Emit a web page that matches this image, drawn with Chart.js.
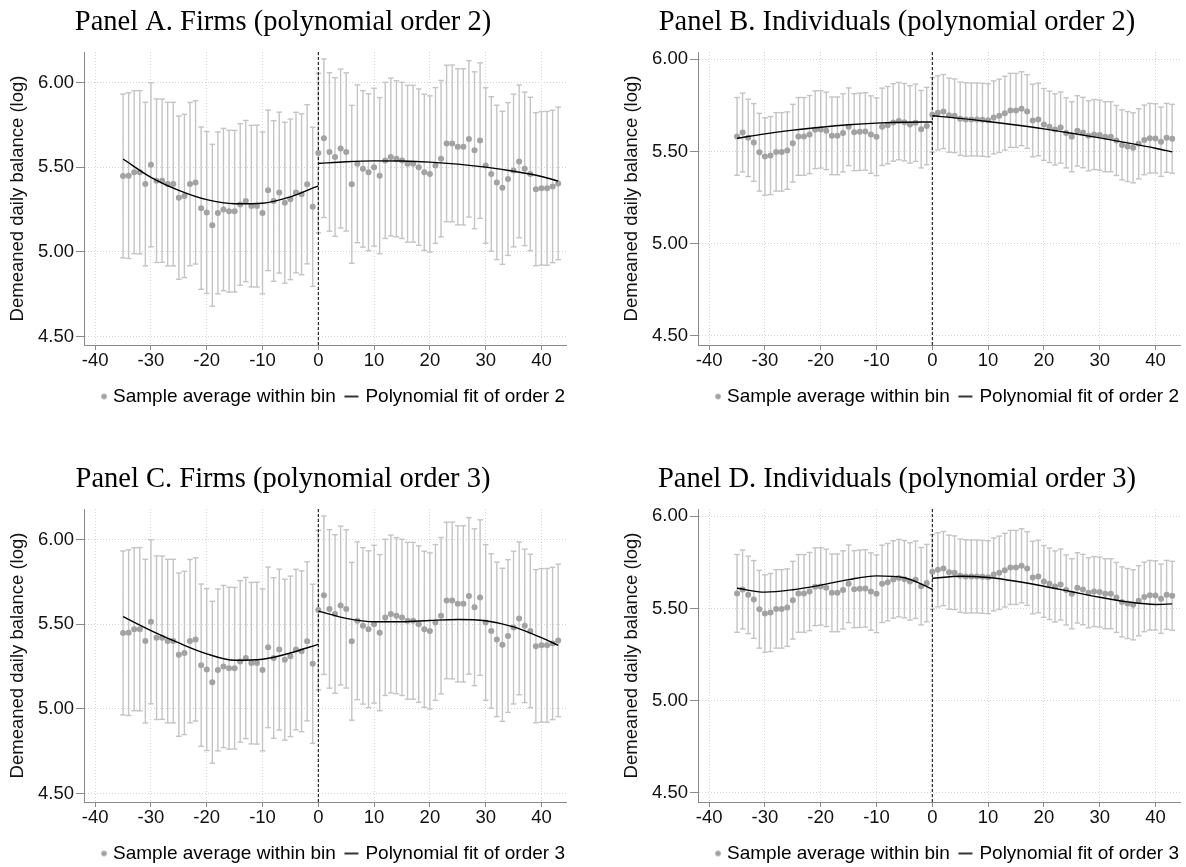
<!DOCTYPE html>
<html>
<head>
<meta charset="utf-8">
<title>RD plots</title>
<script src="https://cdn.jsdelivr.net/npm/chart.js@4.4.1/dist/chart.umd.min.js"></script>
<style>
  html, body { margin: 0; padding: 0; background: #fff; overflow: hidden; }
  .panel { position: absolute; width: 593px; height: 416px; }
</style>
</head>
<body>
<div class="panel" style="left:0;top:0"><canvas id="panelA" width="593" height="416"></canvas></div>
<div class="panel" style="left:593px;top:0"><canvas id="panelB" width="593" height="416"></canvas></div>
<div class="panel" style="left:0;top:457px"><canvas id="panelC" width="593" height="416"></canvas></div>
<div class="panel" style="left:593px;top:457px"><canvas id="panelD" width="593" height="416"></canvas></div>
<script>
// bins (days relative to the cutoff)
const bins = [-35,-34,-33,-32,-31,-30,-29,-28,-27,-26,-25,-24,-23,-22,-21,-20,-19,-18,-17,-16,
  -15,-14,-13,-12,-11,-10,-9,-8,-7,-6,-5,-4,-3,-2,-1,
  0,1,2,3,4,5,6,7,8,9,10,11,12,13,14,15,16,17,18,19,20,21,22,23,24,25,26,27,28,29,
  30,31,32,33,34,35,36,37,38,39,40,41,42,43];

// firms: bin means and 95% CI half widths
const firmMean = [5.448,5.45,5.47,5.47,5.40,5.514,5.42,5.42,5.40,5.40,
  5.32,5.33,5.40,5.41,5.258,5.232,5.157,5.23,5.25,5.24,
  5.24,5.28,5.30,5.27,5.27,5.23,5.363,5.30,5.35,5.29,
  5.31,5.35,5.34,5.399,5.266,
  5.583,5.671,5.59,5.56,5.61,5.59,5.399,5.52,5.49,5.47,
  5.50,5.45,5.54,5.56,5.55,5.54,5.52,5.52,5.50,5.47,
  5.46,5.51,5.55,5.64,5.64,5.62,5.62,5.667,5.60,5.657,
  5.51,5.46,5.41,5.378,5.43,5.48,5.534,5.49,5.46,5.37,
  5.375,5.375,5.386,5.404];
const firmCI = [0.484,0.489,0.481,0.482,0.483,0.484,0.483,0.482,0.483,0.483,
  0.482,0.482,0.482,0.482,0.479,0.478,0.478,0.478,0.479,0.478,
  0.477,0.477,0.476,0.477,0.478,0.478,0.474,0.474,0.475,0.475,
  0.474,0.474,0.475,0.470,0.470,
  0.471,0.468,0.468,0.468,0.469,0.467,0.466,0.466,0.462,0.463,
  0.466,0.461,0.461,0.466,0.461,0.461,0.463,0.463,0.462,0.461,
  0.461,0.460,0.462,0.462,0.463,0.461,0.461,0.462,0.463,0.459,
  0.459,0.456,0.456,0.452,0.451,0.451,0.451,0.453,0.453,0.452,
  0.453,0.454,0.450,0.450];

// individuals: bin means and 95% CI half widths
const indivMean = [5.582,5.603,5.574,5.549,5.496,5.473,5.478,5.498,5.498,5.505,
  5.545,5.582,5.582,5.592,5.618,5.620,5.612,5.585,5.585,5.601,
  5.634,5.605,5.607,5.609,5.592,5.580,5.634,5.643,5.658,5.665,
  5.659,5.647,5.656,5.621,5.638,
  5.699,5.710,5.717,5.697,5.694,5.678,5.674,5.674,5.674,5.672,
  5.670,5.685,5.694,5.708,5.723,5.723,5.732,5.717,5.668,5.674,
  5.647,5.634,5.620,5.630,5.601,5.580,5.612,5.603,5.585,5.592,
  5.589,5.580,5.580,5.560,5.536,5.527,5.520,5.542,5.563,5.572,
  5.571,5.553,5.574,5.569];
const indivCI = [0.211,0.214,0.210,0.211,0.211,0.210,0.212,0.213,0.213,0.210,
  0.211,0.211,0.211,0.212,0.211,0.210,0.210,0.211,0.211,0.212,
  0.211,0.209,0.210,0.210,0.210,0.211,0.210,0.210,0.210,0.210,
  0.210,0.210,0.210,0.210,0.210,
  0.202,0.201,0.201,0.201,0.200,0.199,0.199,0.198,0.198,0.198,
  0.198,0.198,0.199,0.200,0.201,0.201,0.201,0.200,0.197,0.197,
  0.195,0.194,0.193,0.193,0.190,0.190,0.191,0.191,0.190,0.190,
  0.190,0.190,0.190,0.190,0.190,0.190,0.190,0.190,0.189,0.189,
  0.188,0.188,0.187,0.187];

// fitted polynomial
const fitXLeft = [-35,-30,-25,-20,-15,-10,-5,0];
const fitXRight = [0,5,10,15,20,25,30,35,40,43];
const fitA_left = [5.548,5.44,5.363,5.308,5.284,5.287,5.325,5.39];
const fitA_right = [5.522,5.532,5.537,5.536,5.530,5.518,5.50,5.476,5.445,5.418];
const fitB_left = [5.572,5.596,5.616,5.632,5.645,5.654,5.659,5.660];
const fitB_right = [5.694,5.680,5.663,5.644,5.623,5.599,5.574,5.547,5.518,5.498];
const fitC_left = [5.544,5.462,5.389,5.325,5.287,5.293,5.33,5.381];
const fitC_right = [5.577,5.534,5.514,5.514,5.522,5.528,5.52,5.484,5.42,5.375];
const fitD_left = [5.610,5.589,5.602,5.627,5.657,5.677,5.667,5.606];
const fitD_right = [5.664,5.675,5.668,5.648,5.621,5.591,5.561,5.536,5.522,5.525];

const xTicks = [-40,-30,-20,-10,0,10,20,30,40];
const yTicks = [4.5,5.0,5.5,6.0];

const sans = "'Liberation Sans', Arial, Helvetica, sans-serif";
const serif = "'Liberation Serif', 'Times New Roman', serif";
const dotColor = '#a2a2a2';
const barColor = '#c4c4c4';

Chart.defaults.font.family = sans;
Chart.defaults.color = '#111';

// legend symbols (drawn offset inside the icon so the spacing looks like the original)
function dotIcon() {
  const c = document.createElement('canvas');
  c.width = 28; c.height = 8;
  const g = c.getContext('2d');
  g.fillStyle = dotColor;
  g.beginPath();
  g.arc(24, 4, 2.8, 0, Math.PI * 2);
  g.fill();
  return c;
}
function lineIcon() {
  const c = document.createElement('canvas');
  c.width = 26; c.height = 4;
  const g = c.getContext('2d');
  g.strokeStyle = '#000';
  g.lineWidth = 1.6;
  g.beginPath();
  g.moveTo(11, 2);
  g.lineTo(25, 2);
  g.stroke();
  return c;
}

function makePanel(cfg) {
  const errData = [];
  bins.forEach((x, i) => {
    errData.push({x: x, y: cfg.mean[i] - cfg.ci[i]});
    errData.push({x: x, y: cfg.mean[i] + cfg.ci[i]});
    errData.push({x: x, y: null});
  });
  const pts = bins.map((x, i) => ({x: x, y: cfg.mean[i]}));
  const fitL = fitXLeft.map((x, i) => ({x: x, y: cfg.fitLeft[i]}));
  const fitR = fitXRight.map((x, i) => ({x: x, y: cfg.fitRight[i]}));

  new Chart(document.getElementById(cfg.id), {
    type: 'line',
    data: {
      datasets: [
        { label: 'fit left', data: fitL, borderColor: '#000', borderWidth: 1.4,
          pointRadius: 0, cubicInterpolationMode: 'monotone', order: 0 },
        { label: 'fit right', data: fitR, borderColor: '#000', borderWidth: 1.4,
          pointRadius: 0, cubicInterpolationMode: 'monotone', order: 0 },
        { label: 'Sample average within bin', data: pts, showLine: false,
          pointRadius: 3, pointBackgroundColor: dotColor, pointBorderColor: dotColor,
          pointBorderWidth: 0, order: 1 },
        { label: 'cutoff', data: [{x: 0, y: cfg.yMin}, {x: 0, y: cfg.yMax}],
          borderColor: '#000', borderWidth: 1, borderDash: [3, 2], pointRadius: 0, order: 2 },
        { label: 'ci', data: errData, borderColor: barColor, borderWidth: 1.4, spanGaps: false,
          pointStyle: 'line', pointRadius: 2.8, pointBorderColor: barColor,
          pointBorderWidth: 1.4, order: 3 }
      ]
    },
    options: {
      responsive: false,
      animation: false,
      events: [],
      layout: { padding: { left: cfg.padLeft, right: cfg.padRight, top: 0, bottom: 0 } },
      plugins: {
        tooltip: { enabled: false },
        title: {
          display: true, text: cfg.title, color: '#000',
          font: { family: serif, size: 28.5, weight: 'normal' },
          padding: { top: 5, bottom: 12.8 }
        },
        legend: {
          position: 'bottom', align: 'end',
          onClick: null,
          labels: {
            usePointStyle: true, boxWidth: 25, boxHeight: 19, padding: 1,
            font: { family: sans, size: 19 }, color: '#111',
            generateLabels: () => [
              { text: 'Sample average within bin', pointStyle: dotIcon(), fillStyle: dotColor,
                strokeStyle: dotColor, lineWidth: 0, hidden: false, datasetIndex: 2 },
              { text: 'Polynomial fit of order ' + cfg.order, pointStyle: lineIcon(), fillStyle: '#000',
                strokeStyle: '#000', lineWidth: 0, hidden: false, datasetIndex: 0 }
            ]
          }
        }
      },
      scales: {
        x: {
          type: 'linear', min: -42, max: 44.4,
          afterBuildTicks: s => { s.ticks = xTicks.map(v => ({value: v})); },
          afterFit: s => { s.height = 41; },
          ticks: { font: { size: 18.5 }, color: '#111', padding: 0, maxRotation: 0, autoSkip: false },
          grid: { color: '#d6d6d6', lineWidth: 1, tickColor: '#8a8a8a', tickLength: 5, tickBorderDash: [] },
          border: { color: '#8a8a8a', width: 1, dash: [1, 2] }
        },
        y: {
          min: cfg.yMin, max: cfg.yMax,
          afterBuildTicks: s => { s.ticks = yTicks.map(v => ({value: v})); },
          afterFit: s => { s.width = cfg.yWidth; },
          ticks: { font: { size: 18.5 }, color: '#111', padding: 2,
            callback: v => v.toFixed(2) },
          title: { display: true, text: 'Demeaned daily balance (log)', color: '#111',
            font: { size: 18.5 }, padding: { top: 7, bottom: 0 } },
          grid: { color: '#d6d6d6', lineWidth: 1, tickColor: '#8a8a8a', tickLength: 8, tickBorderDash: [] },
          border: { color: '#8a8a8a', width: 1, dash: [1, 2] }
        }
      }
    }
  });
}

makePanel({ id: 'panelA', title: 'Panel A. Firms (polynomial order 2)', order: 2,
  mean: firmMean, ci: firmCI, fitLeft: fitA_left, fitRight: fitA_right,
  yMin: 4.45, yMax: 6.18, padLeft: 0, padRight: 27, yWidth: 84 });
makePanel({ id: 'panelB', title: 'Panel B. Individuals (polynomial order 2)', order: 2,
  mean: indivMean, ci: indivCI, fitLeft: fitB_left, fitRight: fitB_right,
  yMin: 4.45, yMax: 6.04, padLeft: 21, padRight: 6, yWidth: 84 });
makePanel({ id: 'panelC', title: 'Panel C. Firms (polynomial order 3)', order: 3,
  mean: firmMean, ci: firmCI, fitLeft: fitC_left, fitRight: fitC_right,
  yMin: 4.45, yMax: 6.18, padLeft: 0, padRight: 27, yWidth: 84 });
makePanel({ id: 'panelD', title: 'Panel D. Individuals (polynomial order 3)', order: 3,
  mean: indivMean, ci: indivCI, fitLeft: fitD_left, fitRight: fitD_right,
  yMin: 4.45, yMax: 6.04, padLeft: 21, padRight: 6, yWidth: 84 });
</script>
</body>
</html>
